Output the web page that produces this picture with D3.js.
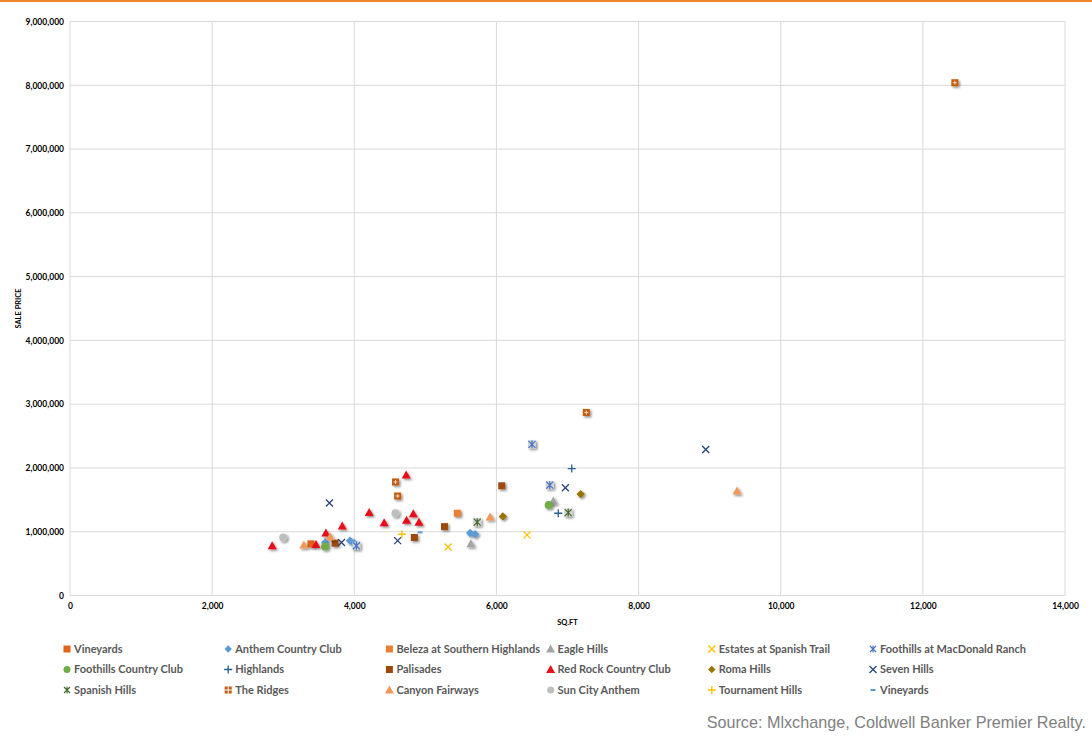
<!DOCTYPE html>
<html>
<head>
<meta charset="utf-8">
<script src="https://cdn.jsdelivr.net/npm/d3@7"></script>
<style>
  html, body { margin: 0; padding: 0; background: #fff; }
  svg { display: block; }
</style>
</head>
<body>
<svg id="chart" width="1092" height="736"></svg>
<script>
// ---------- DATA (sq.ft, sale price) ----------
const xTicks = [0, 2000, 4000, 6000, 8000, 10000, 12000, 14000];
const yTicks = [0, 1000000, 2000000, 3000000, 4000000, 5000000, 6000000, 7000000, 8000000, 9000000];

const seriesNames = [
  "Vineyards", "Anthem Country Club", "Beleza at Southern Highlands", "Eagle Hills",
  "Estates at Spanish Trail", "Foothills at MacDonald Ranch", "Foothills Country Club", "Highlands",
  "Palisades", "Red Rock Country Club", "Roma Hills", "Seven Hills",
  "Spanish Hills", "The Ridges", "Canyon Fairways", "Sun City Anthem",
  "Tournament Hills", "Vineyards "
];

const vineyards = [[3390, 810000]];
const anthemCountryClub = [[3590, 830000], [3940, 860000], [4000, 820000], [5630, 980000], [5700, 960000]];
const belezaSouthernHighlands = [[5450, 1290000]];
const eagleHills = [[5640, 810000], [6800, 1480000]];
const estatesSpanishTrail = [[5320, 760000], [6430, 950000]];
const foothillsMacDonald = [[4030, 780000], [6500, 2370000], [6750, 1730000]];
const foothillsCountryClub = [[3590, 770000], [6735, 1420000]];
const highlands = [[7060, 1990000], [6870, 1290000]];
const palisades = [[3730, 820000], [4845, 910000], [5270, 1080000], [6075, 1720000]];
const redRockCountryClub = [[2845, 780000], [3460, 800000], [3600, 980000], [3830, 1090000], [4210, 1300000],
  [4420, 1140000], [4730, 1890000], [4735, 1180000], [4830, 1280000], [4910, 1150000]];
const romaHills = [[7185, 1590000], [6090, 1240000]];
const sevenHills = [[3650, 1450000], [3820, 830000], [4610, 860000], [6970, 1690000], [8945, 2290000]];
const spanishHills = [[5730, 1150000], [7010, 1300000]];
const theRidges = [[4580, 1780000], [4610, 1560000], [7265, 2870000], [12450, 8040000]];
const canyonFairways = [[3290, 790000], [3660, 920000], [5910, 1230000], [9385, 1640000]];
const sunCityAnthem = [[3000, 910000], [4580, 1290000]];
const tournamentHills = [[4670, 960000]];
const vineyardsDash = [[4925, 990000]];

const seriesValues = [
  vineyards, anthemCountryClub, belezaSouthernHighlands, eagleHills,
  estatesSpanishTrail, foothillsMacDonald, foothillsCountryClub, highlands,
  palisades, redRockCountryClub, romaHills, sevenHills,
  spanishHills, theRidges, canyonFairways, sunCityAnthem,
  tournamentHills, vineyardsDash
];

// ---------- STYLES ----------
const seriesStyles = [
  { shape: "square",   color: "#E0641C" },
  { shape: "diamond",  color: "#5B9BD5" },
  { shape: "square",   color: "#ED7D31" },
  { shape: "triangle", color: "#A5A5A5" },
  { shape: "x",        color: "#FFC000" },
  { shape: "asterisk", color: "#4472C4" },
  { shape: "circle",   color: "#70AD47" },
  { shape: "plus",     color: "#255E91" },
  { shape: "square",   color: "#9E480E" },
  { shape: "triangle", color: "#E8101A" },
  { shape: "diamond",  color: "#997300" },
  { shape: "x",        color: "#264478" },
  { shape: "asterisk", color: "#43682B" },
  { shape: "squareplus", color: "#C55A11" },
  { shape: "triangle", color: "#F1975A" },
  { shape: "circle",   color: "#BFBFBF" },
  { shape: "plus",     color: "#FFC000" },
  { shape: "dash",     color: "#5B9BD5" }
];

const svg = d3.select("#chart");
const W = 1092, H = 736;

// top orange rule
svg.append("rect").attr("x", 0).attr("y", 0).attr("width", W).attr("height", 2).attr("fill", "#F0862A");

const defs = svg.append("defs");
const f = defs.append("filter").attr("id", "shadow").attr("x", "-50%").attr("y", "-50%").attr("width", "200%").attr("height", "200%");
f.append("feDropShadow").attr("dx", 1.5).attr("dy", 1.5).attr("stdDeviation", 1.2)
  .attr("flood-color", "#000").attr("flood-opacity", 0.45);

const x = d3.scaleLinear().domain([0, 14000]).range([70, 1065]);
const y = d3.scaleLinear().domain([0, 9000000]).range([595.5, 21.5]);

const grid = svg.append("g");
grid.selectAll("line.v").data(xTicks).join("line")
  .attr("x1", d => x(d)).attr("x2", d => x(d)).attr("y1", y(9000000)).attr("y2", y(0))
  .attr("stroke", "#D9D9D9").attr("stroke-width", 1);
grid.selectAll("line.h").data(yTicks).join("line")
  .attr("x1", x(0)).attr("x2", x(14000)).attr("y1", d => y(d)).attr("y2", d => y(d))
  .attr("stroke", "#D9D9D9").attr("stroke-width", 1);

const fmt = d3.format(",");
const yAxis = svg.append("g").attr("transform", `translate(${x(0) - 6},0)`)
  .call(d3.axisLeft(y).tickValues(yTicks).tickFormat(fmt).tickSize(0).tickPadding(0));
yAxis.select(".domain").remove();
yAxis.selectAll("text").attr("font-family", "Lato, 'Open Sans', sans-serif").attr("font-weight", "bold")
  .attr("font-size", "8.5px").attr("fill", "#000").attr("dy", "0.32em");

const xAxis = svg.append("g").attr("transform", `translate(0,${y(0) + 7})`)
  .call(d3.axisBottom(x).tickValues(xTicks).tickFormat(fmt).tickSize(0).tickPadding(0));
xAxis.select(".domain").remove();
xAxis.selectAll("text").attr("font-family", "Lato, 'Open Sans', sans-serif").attr("font-weight", "bold")
  .attr("font-size", "8.5px").attr("fill", "#000").attr("dy", "0.71em");

svg.append("text").text("SQ.FT").attr("x", (x(0) + x(14000)) / 2).attr("y", 625)
  .attr("text-anchor", "middle").attr("font-family", "Lato, sans-serif").attr("font-weight", "bold")
  .attr("font-size", "7.5px").attr("fill", "#000");
svg.append("text").text("SALE PRICE").attr("transform", `translate(21,${(y(0) + y(9000000)) / 2}) rotate(-90)`)
  .attr("text-anchor", "middle").attr("font-family", "Lato, sans-serif").attr("font-weight", "bold")
  .attr("font-size", "7.5px").attr("fill", "#000");

// ---------- MARKERS ----------
function drawMarker(g, shape, color, s) {
  const h = s / 2;
  if (shape === "square") {
    g.append("rect").attr("x", -h).attr("y", -h).attr("width", s).attr("height", s).attr("fill", color);
  } else if (shape === "squareplus") {
    g.append("rect").attr("x", -h).attr("y", -h).attr("width", s).attr("height", s).attr("fill", color);
    g.append("path").attr("d", `M${-h + 1.5},0H${h - 1.5}M0,${-h + 1.5}V${h - 1.5}`).attr("stroke", "#F6D8C2").attr("stroke-width", 1);
  } else if (shape === "diamond") {
    const r = h + 0.7;
    g.append("path").attr("d", `M0,${-r}L${r},0L0,${r}L${-r},0Z`).attr("fill", color);
  } else if (shape === "triangle") {
    g.append("path").attr("d", `M0,${-h - 1}L${h + 1},${h}L${-h - 1},${h}Z`).attr("fill", color);
  } else if (shape === "circle") {
    g.append("circle").attr("r", h + 0.5).attr("fill", color);
  } else if (shape === "x") {
    g.append("path").attr("d", `M${-h},${-h}L${h},${h}M${h},${-h}L${-h},${h}`).attr("stroke", color).attr("stroke-width", 1.3);
  } else if (shape === "plus") {
    g.append("path").attr("d", `M${-h - 0.5},0H${h + 0.5}M0,${-h - 0.5}V${h + 0.5}`).attr("stroke", color).attr("stroke-width", 1.3);
  } else if (shape === "asterisk") {
    g.append("rect").attr("x", -h - 0.5).attr("y", -h - 0.5).attr("width", s + 1).attr("height", s + 1).attr("fill", "#D4D4D4");
    g.append("path").attr("d", `M${-h},${-h}L${h},${h}M${h},${-h}L${-h},${h}M0,${-h - 0.5}V${h + 0.5}`).attr("stroke", color).attr("stroke-width", 1.2);
  } else if (shape === "dash") {
    g.append("path").attr("d", `M${-h + 1},0H${h - 1}`).attr("stroke", color).attr("stroke-width", 2);
  }
}

const marks = svg.append("g");
seriesValues.forEach((pts, i) => {
  const st = seriesStyles[i];
  pts.forEach(p => {
    const g = marks.append("g").attr("transform", `translate(${x(p[0])},${y(p[1])})`);
    if (st.shape !== "x" && st.shape !== "plus" && st.shape !== "dash") g.attr("filter", "url(#shadow)");
    drawMarker(g, st.shape, st.color, 7);
  });
});

// ---------- LEGEND ----------
const legend = svg.append("g");
seriesNames.forEach((name, i) => {
  const col = i % 6, row = Math.floor(i / 6);
  const lx = 67 + col * 161.2, ly = 649 + row * 20.5;
  const g = legend.append("g").attr("transform", `translate(${lx},${ly})`);
  const st = seriesStyles[i];
  if (st.shape === "squareplus") {
    g.append("rect").attr("x", -3.5).attr("y", -3.5).attr("width", 7).attr("height", 7).attr("fill", st.color);
    g.append("path").attr("d", "M-3.5,0H3.5M0,-3.5V3.5").attr("stroke", "#fff").attr("stroke-width", 1);
  } else if (st.shape === "asterisk") {
    g.append("path").attr("d", "M-3,-3L3,3M3,-3L-3,3M0,-3.5V3.5").attr("stroke", st.color).attr("stroke-width", 1.1);
  } else {
    drawMarker(g, st.shape, st.color, st.shape === "circle" || st.shape === "diamond" ? 6 : 7);
  }
  g.append("text").text(name.trim()).attr("x", 7).attr("y", 0).attr("dy", "0.35em")
    .attr("font-family", "Lato, 'Open Sans', sans-serif").attr("font-weight", "bold")
    .attr("font-size", "11px").attr("fill", "#595959");
});

svg.append("text").text("Source: Mlxchange, Coldwell Banker Premier Realty.")
  .attr("x", 1086).attr("y", 728).attr("text-anchor", "end")
  .attr("font-family", "'Liberation Sans', Arial, sans-serif").attr("font-size", "16.2px").attr("fill", "#808080");
</script>
</body>
</html>
